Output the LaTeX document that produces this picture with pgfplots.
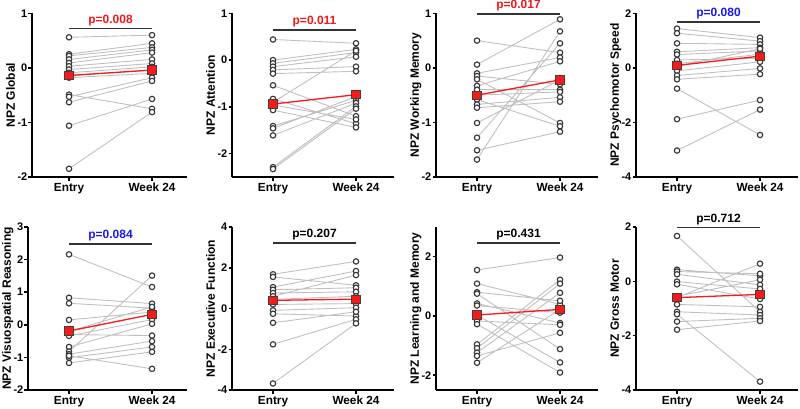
\documentclass[border=0pt]{standalone}
\usepackage{fontspec}
\setmainfont{Liberation Sans}
\usepackage{pgfplots}
\usepackage{pgfplotstable}
\pgfplotsset{compat=1.18}
\definecolor{pairgray}{RGB}{192,192,192}
\definecolor{ptedge}{RGB}{55,55,55}
\definecolor{meanred}{RGB}{250,25,25}
\definecolor{pblue}{RGB}{25,25,240}
\definecolor{pred}{RGB}{240,25,25}
\pgfplotsset{
 npz/.style={
  scale only axis, anchor=south west,
  axis lines=left,
  axis line style={-, line width=2pt, black},
  xtick={1,2}, xticklabels={Entry, Week 24},
  tick align=outside, major tick length=3.5pt,
  tick style={line width=1.5pt, black},
  tick label style={inner sep=1pt},
  yticklabel style={font=\fontsize{11}{13}\selectfont\bfseries},
  xticklabel style={font=\fontsize{11.8}{13}\selectfont\bfseries, yshift=-1.5pt},
  label style={font=\fontsize{12}{14}\selectfont\bfseries},
  ylabel style={inner sep=0pt, text depth=0pt},
  ylabel shift=1.5pt,
  /pgf/number format/assume math mode=true,
  clip=false, unbounded coords=jump,
 },
 pair/.style={pairgray, line width=0.9pt, no markers},
 pts/.style={only marks, mark=*, mark size=2.7pt, mark options={fill=white, draw=ptedge, line width=1.15pt}},
 meanln/.style={meanred, line width=1.3pt, mark=square*, mark size=4.2pt, mark options={fill=meanred, draw=black!75, line width=0.8pt}},
}
\tikzset{
 pbar/.style={line width=1.8pt, black!80},
 ptext/.style={midway, above=1pt, inner sep=1pt, font=\fontsize{12}{14}\selectfont\bfseries},
}
\pgfplotstableread{
x y
1 0.56
2 0.60
nan nan
1 0.25
2 0.45
nan nan
1 0.22
2 0.375
nan nan
1 0.155
2 0.33
nan nan
1 0.09
2 0.28
nan nan
1 0.03
2 0.155
nan nan
1 -0.03
2 0.08
nan nan
1 -0.09
2 0.02
nan nan
1 -0.14
2 -0.04
nan nan
1 -0.18
2 -0.10
nan nan
1 -0.49
2 -0.75
nan nan
1 -0.53
2 -0.18
nan nan
1 -0.63
2 -0.24
nan nan
1 -1.06
2 -0.57
nan nan
1 -1.85
2 -0.81
}\tA
\pgfplotstableread{
x y
1 0.44
2 0.36
nan nan
1 0.00
2 0.23
nan nan
1 -0.07
2 0.16
nan nan
1 -0.14
2 0.07
nan nan
1 -0.21
2 -0.14
nan nan
1 -0.29
2 -0.24
nan nan
1 -0.54
2 -1.20
nan nan
1 -0.83
2 -1.36
nan nan
1 -0.90
2 0.20
nan nan
1 -0.96
2 -1.27
nan nan
1 -1.07
2 -1.44
nan nan
1 -1.41
2 -0.86
nan nan
1 -1.46
2 -0.78
nan nan
1 -1.61
2 -0.92
nan nan
1 -2.29
2 -0.99
nan nan
1 -2.33
2 -1.04
}\tB
\pgfplotstableread{
x y
1 0.50
2 0.28
nan nan
1 0.06
2 0.89
nan nan
1 -0.10
2 0.19
nan nan
1 -0.15
2 -0.30
nan nan
1 -0.21
2 -1.01
nan nan
1 -0.33
2 0.12
nan nan
1 -0.40
2 -0.40
nan nan
1 -0.50
2 -0.44
nan nan
1 -0.58
2 -1.07
nan nan
1 -0.67
2 -0.54
nan nan
1 -0.73
2 -0.62
nan nan
1 -1.01
2 -0.22
nan nan
1 -1.28
2 0.45
nan nan
1 -1.51
2 -1.17
nan nan
1 -1.68
2 0.67
}\tC
\pgfplotstableread{
x y
1 1.44
2 1.11
nan nan
1 1.27
2 0.98
nan nan
1 0.90
2 0.86
nan nan
1 0.59
2 0.74
nan nan
1 0.49
2 0.62
nan nan
1 0.29
2 0.35
nan nan
1 0.15
2 0.50
nan nan
1 0.05
2 0.70
nan nan
1 -0.11
2 0.22
nan nan
1 -0.28
2 -0.02
nan nan
1 -0.42
2 -0.23
nan nan
1 -0.76
2 -2.46
nan nan
1 -1.88
2 -1.18
nan nan
1 -3.03
2 -1.53
}\tD
\pgfplotstableread{
x y
1 2.16
2 1.16
nan nan
1 0.83
2 0.65
nan nan
1 0.66
2 0.51
nan nan
1 0.15
2 0.39
nan nan
1 -0.20
2 0.55
nan nan
1 -0.30
2 -0.33
nan nan
1 -0.34
2 0.16
nan nan
1 -0.68
2 0.03
nan nan
1 -0.82
2 1.51
nan nan
1 -0.90
2 -0.50
nan nan
1 -1.01
2 -0.68
nan nan
1 -1.17
2 -0.83
nan nan
1 -0.95
2 -1.35
}\tE
\pgfplotstableread{
x y
1 1.68
2 2.31
nan nan
1 1.55
2 1.14
nan nan
1 1.05
2 1.84
nan nan
1 0.92
2 1.02
nan nan
1 0.76
2 0.82
nan nan
1 0.60
2 1.64
nan nan
1 0.45
2 0.60
nan nan
1 0.20
2 0.24
nan nan
1 -0.09
2 0.04
nan nan
1 -0.26
2 -0.37
nan nan
1 -0.70
2 -0.16
nan nan
1 -1.76
2 -0.53
nan nan
1 -3.68
2 -0.73
}\tF
\pgfplotstableread{
x y
1 1.55
2 1.97
nan nan
1 1.09
2 0.39
nan nan
1 0.80
2 0.51
nan nan
1 0.75
2 -1.12
nan nan
1 0.42
2 -0.24
nan nan
1 0.35
2 0.11
nan nan
1 0.03
2 -1.57
nan nan
1 -0.17
2 -0.30
nan nan
1 -0.28
2 -1.91
nan nan
1 -0.96
2 1.22
nan nan
1 -1.09
2 1.09
nan nan
1 -1.24
2 0.78
nan nan
1 -1.35
2 -0.57
nan nan
1 -1.58
2 0.22
}\tG
\pgfplotstableread{
x y
1 1.67
2 -1.12
nan nan
1 0.43
2 0.20
nan nan
1 0.36
2 0.28
nan nan
1 0.26
2 -0.13
nan nan
1 -0.01
2 -0.28
nan nan
1 -0.11
2 -0.65
nan nan
1 -0.55
2 0.06
nan nan
1 -0.60
2 0.65
nan nan
1 -0.85
2 -0.94
nan nan
1 -1.12
2 -1.24
nan nan
1 -1.21
2 -3.69
nan nan
1 -1.48
2 -1.36
nan nan
1 -1.78
2 -1.46
}\tH
\begin{document}
\begin{tikzpicture}
\path[use as bounding box] (0pt,0pt) rectangle (800pt,408pt);
% ---- top row ----
\begin{axis}[npz, at={(32pt,231pt)}, width=154.9pt, height=163.7pt,
  xmin=0.554, xmax=2.42, ymin=-2, ymax=1, ytick={-2,-1,0,1}, ylabel={NPZ Global}]
\addplot[pair] table {\tA};
\addplot[pts] table {\tA};
\addplot[meanln] coordinates {(1,-0.14) (2,-0.04)};
\draw[pbar] (axis cs:1,0.72) -- (axis cs:2,0.72) node[ptext, text=pred] {p=0.008};
\end{axis}
\begin{axis}[npz, at={(232pt,231pt)}, width=162.2pt, height=163.7pt,
  xmin=0.506, xmax=2.46, ymin=-2.5, ymax=1, ytick={-2,-1,0,1}, ylabel={NPZ Attention}]
\addplot[pair] table {\tB};
\addplot[pts] table {\tB};
\addplot[meanln] coordinates {(1,-0.94) (2,-0.74)};
\draw[pbar] (axis cs:1,0.64) -- (axis cs:2,0.64) node[ptext, text=pred] {p=0.011};
\end{axis}
\begin{axis}[npz, at={(436pt,231pt)}, width=162.2pt, height=163.7pt,
  xmin=0.506, xmax=2.46, ymin=-2, ymax=1, ytick={-2,-1,0,1}, ylabel={NPZ Working Memory}]
\addplot[pair] table {\tC};
\addplot[pts] table {\tC};
\addplot[meanln] coordinates {(1,-0.50) (2,-0.22)};
\draw[pbar] (axis cs:1,0.99) -- (axis cs:2,0.99) node[ptext, above=0pt, text=pred] {p=0.017};
\end{axis}
\begin{axis}[npz, at={(636pt,231pt)}, width=162.2pt, height=163.7pt,
  xmin=0.506, xmax=2.46, ymin=-4, ymax=2, ytick={-4,-2,0,2}, ylabel={NPZ Psychomotor Speed}]
\addplot[pair] table {\tD};
\addplot[pts] table {\tD};
\addplot[meanln] coordinates {(1,0.09) (2,0.43)};
\draw[pbar] (axis cs:1,1.69) -- (axis cs:2,1.69) node[ptext, text=pblue] {p=0.080};
\end{axis}
% ---- bottom row ----
\begin{axis}[npz, at={(28pt,18pt)}, width=158.9pt, height=163pt,
  xmin=0.506, xmax=2.42, ymin=-2, ymax=3, ytick={-2,-1,0,1,2,3}, ylabel={NPZ Visuospatial Reasoning}]
\addplot[pair] table {\tE};
\addplot[pts] table {\tE};
\addplot[meanln] coordinates {(1,-0.19) (2,0.32)};
\draw[pbar] (axis cs:1,2.49) -- (axis cs:2,2.49) node[ptext, text=pblue] {p=0.084};
\end{axis}
\begin{axis}[npz, at={(232pt,18pt)}, width=162.2pt, height=163pt,
  xmin=0.506, xmax=2.46, ymin=-4, ymax=4, ytick={-4,-2,0,2,4}, ylabel={NPZ Executive Function}]
\addplot[pair] table {\tF};
\addplot[pts] table {\tF};
\addplot[meanln] coordinates {(1,0.40) (2,0.46)};
\draw[pbar] (axis cs:1,3.21) -- (axis cs:2,3.21) node[ptext, text=black] {p=0.207};
\end{axis}
\begin{axis}[npz, at={(436pt,18pt)}, width=162.2pt, height=163pt,
  xmin=0.506, xmax=2.46, ymin=-2.5, ymax=3, ytick={-2,0,2}, ylabel={NPZ Learning and Memory}]
\addplot[pair] table {\tG};
\addplot[pts] table {\tG};
\addplot[meanln] coordinates {(1,0.03) (2,0.22)};
\draw[pbar] (axis cs:1,2.46) -- (axis cs:2,2.46) node[ptext, text=black] {p=0.431};
\end{axis}
\begin{axis}[npz, at={(636pt,18pt)}, width=162.2pt, height=163pt,
  xmin=0.506, xmax=2.46, ymin=-4, ymax=2, ytick={-4,-2,0,2}, ylabel={NPZ Gross Motor}]
\addplot[pair] table {\tH};
\addplot[pts] table {\tH};
\addplot[meanln] coordinates {(1,-0.60) (2,-0.48)};
\draw[pbar] (axis cs:1,1.98) -- (axis cs:2,1.98) node[ptext, text=black] {p=0.712};
\end{axis}
\end{tikzpicture}
\end{document}
